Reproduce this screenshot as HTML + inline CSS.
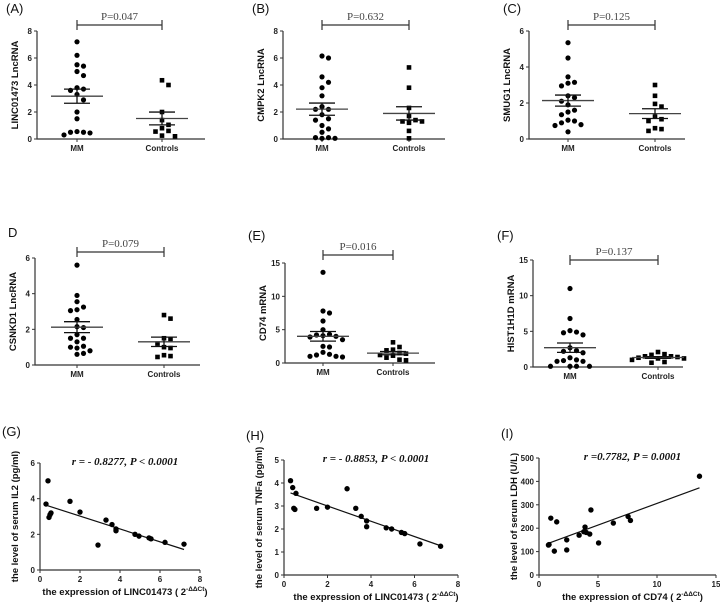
<!DOCTYPE html>
<html><head><meta charset="utf-8"><style>
html,body{margin:0;padding:0;background:#fff;}
svg{display:block;font-family:"Liberation Sans",Arial,sans-serif;}
.tk{font-size:8px;font-weight:bold;fill:#222;}
.ttl{font-size:9.5px;font-weight:bold;fill:#111;}
.pl{font-family:"Liberation Serif",serif;font-size:11px;fill:#444;}
.lab{font-size:13px;fill:#111;}
.eq{font-family:"Liberation Serif",serif;font-size:11px;font-weight:bold;font-style:italic;fill:#111;}
</style></head><body>
<svg id="fig" width="720" height="608" viewBox="0 0 720 608"></svg>
<script>
// ---- Dot plot data ----
const groups = ["MM", "Controls"];
const aMM = [7.2,6.2,5.5,5.4,5.0,4.7,3.8,3.7,3.6,3.3,2.9,2.0,1.5,0.5,0.55,0.45,0.5,0.3];
const aCtl = [4.35,4.0,2.0,1.4,1.05,0.8,0.55,0.6,0.25,0.2];
const bMM = [6.15,6.0,4.6,4.2,3.8,3.2,2.4,2.2,2.2,1.8,1.5,1.4,1.0,0.75,0.5,0.1,0.05,0.05,0.1];
const bCtl = [5.3,3.8,2.3,1.7,1.4,1.3,1.3,1.2,0.6,0.05];
const cMM = [5.35,4.5,3.45,3.15,3.1,2.95,2.4,2.3,2.1,1.9,1.6,1.5,1.35,1.05,1.0,0.9,0.8,0.75,0.4];
const cCtl = [3.0,2.4,1.95,1.8,1.25,1.1,1.0,0.6,0.55,0.45];
const dMM = [5.6,3.9,3.55,3.25,3.1,3.05,2.55,2.15,2.1,1.7,1.5,1.5,1.3,1.0,1.05,0.95,0.8,0.6,0.65];
const dCtl = [2.8,2.6,1.5,1.45,1.2,1.0,0.95,0.55,0.5,0.45];
const eMM = [13.6,7.8,7.5,6.3,5.0,4.2,4.3,4.1,4.0,3.9,3.5,2.5,2.4,1.6,1.3,1.2,1.0,0.9,1.0];
const eCtl = [3.1,2.4,2.0,1.9,1.5,1.4,1.2,1.1,0.8,0.5,0.4];
const fMM = [11.0,6.8,5.1,4.9,4.8,4.5,2.7,2.3,2.2,2.0,1.3,1.0,0.8,0.8,0.9,0.1,0.1,0.1,0.1];
const fCtl = [2.1,1.8,1.7,1.5,1.5,1.4,1.3,1.2,1.2,1.0,0.7,0.6];
const ticks8 = [0,2,4,6,8];
const ticks6 = [0,2,4,6];
const ticks15 = [0,5,10,15];
// ---- Scatter data ----
const gX = [0.3,0.4,0.45,0.5,0.55,1.5,2.0,2.9,3.3,3.6,3.8,3.8,4.75,4.95,5.45,5.55,6.25,7.2];
const gY = [3.7,5.0,2.95,3.1,3.2,3.85,3.25,1.4,2.8,2.55,2.3,2.2,2.0,1.9,1.8,1.75,1.55,1.45];
const hX = [0.3,0.4,0.45,0.5,0.55,1.5,2.0,2.9,3.3,3.55,3.8,3.8,4.7,4.95,5.4,5.55,6.25,7.2];
const hY = [4.1,3.8,2.9,2.85,3.55,2.9,2.95,3.75,2.9,2.55,2.35,2.1,2.05,2.0,1.85,1.8,1.35,1.25];
const iX = [0.8,0.85,1.0,1.3,1.5,2.35,2.35,3.4,3.8,3.9,4.0,4.3,4.4,5.05,6.3,7.55,7.75,13.6];
const iY = [128,130,243,102,227,150,107,170,185,205,182,175,278,137,222,250,233,422];
const xt8 = [0,2,4,6,8];
const xt15 = [0,5,10,15];
const yt6 = [0,2,4,6];
const yt5 = [0,1,2,3,4,5];
const yt500 = [0,100,200,300,400,500];

const NS = "http://www.w3.org/2000/svg";
const svg = document.getElementById("fig");
function mk(tag, attrs, parent, txt){
  const e = document.createElementNS(NS, tag);
  for (const k in attrs) e.setAttribute(k, attrs[k]);
  if (txt !== undefined) e.textContent = txt;
  (parent || svg).appendChild(e);
  return e;
}
function beeswarm(vals, sy, cx, r){
  const placed = []; const out = [];
  const order = vals.map((v,i)=>i).sort((a,b)=>vals[b]-vals[a]);
  const res = new Array(vals.length);
  for (const i of order){
    const y = sy(vals[i]);
    let k = 0, x = cx;
    while (true){
      const off = (k===0?0:Math.ceil(k/2)*(k%2?1:-1))*(2*r+1.5)/1;
      x = cx + off;
      if (!placed.some(p => Math.hypot(p[0]-x, p[1]-y) < 2*r+0.8)) break;
      k++;
    }
    placed.push([x,y]); res[i] = [x,y];
  }
  return res;
}
function stats(v){
  const m = v.reduce((a,b)=>a+b,0)/v.length;
  const sd = Math.sqrt(v.reduce((a,b)=>a+(b-m)*(b-m),0)/(v.length-1));
  return [m, sd/Math.sqrt(v.length)];
}
function dotPanel(p){
  const g = mk("g", {});
  
  
  const ymax = p.ticks[p.ticks.length-1];
  const sy = v => p.yb - (v/ymax)*(p.yb-p.yt);
  const lab = mk("text", {x:p.lx, y:p.ly, class:"lab"}, g, p.label);
  
  
  // axes
  const ya = mk("path", {d:`M${p.x0},${p.yt}V${p.yb}H${p.xe}`, stroke:"#333", "stroke-width":1.2, fill:"none"}, g);
  
  
  p.ticks.forEach(t => {
    const y = sy(t);
    mk("line", {x1:p.x0-3, x2:p.x0, y1:y, y2:y, stroke:"#333"}, g);
    const tl = mk("text", {x:p.x0-5, y:y+3, class:"tk", "text-anchor":"end"}, g, t);
    
    
  });
  const cs = [p.cm, p.cc];
  groups.forEach((gname, gi) => {
    mk("line", {x1:cs[gi], x2:cs[gi], y1:p.yb, y2:p.yb+3, stroke:"#333"}, g);
    const xl = mk("text", {x:cs[gi], y:p.yb+12, class:"tk", "text-anchor":"middle"}, g, gname);
    
    
  });
  const yt = mk("text", {class:"ttl", "text-anchor":"middle", transform:`translate(${p.x0-19},${(p.yt+p.yb)/2}) rotate(-90)`}, g, p.title);
  
  
  // p bar
  const pb = mk("path", {d:`M${p.cm},${p.py-5}V${p.py+5}M${p.cm},${p.py}H${p.cc}M${p.cc},${p.py-5}V${p.py+5}`, stroke:"#333", "stroke-width":1.2, fill:"none"}, g);
  
  
  const pt = mk("text", {x:(p.cm+p.cc)/2, y:p.py-5, class:"pl", "text-anchor":"middle"}, g, p.p);
  
  
  [p.mm, p.ctl].forEach((vals, gi) => {
    const pos = beeswarm(vals, sy, cs[gi], 2.5);
    pos.forEach(([x,y]) => {
      let m;
      if (gi===0) m = mk("circle", {cx:x, cy:y, r:2.6, fill:"#000"}, g);
      else m = mk("rect", {x:x-2.3, y:y-2.3, width:4.6, height:4.6, fill:"#000"}, g);
      
      
    });
    const [mean, sem] = stats(vals);
    const c = cs[gi];
    const ml = mk("line", {x1:c-26, x2:c+26, y1:sy(mean), y2:sy(mean), stroke:"#444", "stroke-width":1.3}, g);
    
    
    const el = mk("path", {d:`M${c-13},${sy(mean+sem)}H${c+13}M${c-13},${sy(mean-sem)}H${c+13}M${c},${sy(mean+sem)}V${sy(mean-sem)}`, stroke:"#111", "stroke-width":1.3, fill:"none"}, g);
    
    
  });
}
function scatterPanel(p){
  const g = mk("g", {});
  
  
  const xmax = p.xt[p.xt.length-1], ymax = p.yt_[p.yt_.length-1];
  const sx = v => p.x0 + v/xmax*(p.x1-p.x0);
  const sy = v => p.yb - v/ymax*(p.yb-p.ytop);
  const lab = mk("text", {x:p.lx, y:p.ly, class:"lab"}, g, p.label);
  
  
  const ax = mk("path", {d:`M${p.x0},${p.ytop}V${p.yb}H${p.x1}`, stroke:"#333", "stroke-width":1.2, fill:"none"}, g);
  
  
  p.yt_.forEach(t => {
    mk("line", {x1:p.x0-3, x2:p.x0, y1:sy(t), y2:sy(t), stroke:"#333"}, g);
    const tl = mk("text", {x:p.x0-5, y:sy(t)+3, class:"tk", "text-anchor":"end"}, g, t);
    
    
  });
  p.xt.forEach(t => {
    mk("line", {x1:sx(t), x2:sx(t), y1:p.yb, y2:p.yb+3, stroke:"#333"}, g);
    const tl = mk("text", {x:sx(t), y:p.yb+12, class:"tk", "text-anchor":"middle"}, g, t);
    
    
  });
  const yt = mk("text", {class:"ttl", "text-anchor":"middle", transform:`translate(${p.x0-22},${(p.ytop+p.yb)/2}) rotate(-90)`}, g, p.ytitle);
  
  
  const xt = mk("text", {x:(p.x0+p.x1)/2+5, y:p.yb+25, class:"ttl", "text-anchor":"middle"}, g, p.xtitle + " ( 2");
  const sup = mk("tspan", {dy:-4, "font-size":"6.5px"}, xt, "-ΔΔCt");
  mk("tspan", {dy:4}, xt, ")");
  
  
  const eq = mk("text", {x:(p.x0+p.x1)/2+5, y:p.ytop+2, class:"eq", "text-anchor":"middle"}, g, p.eq);
  
  
  // regression
  const n = p.X.length;
  const mx = p.X.reduce((a,b)=>a+b,0)/n, my = p.Y.reduce((a,b)=>a+b,0)/n;
  let sxy=0, sxx=0;
  for (let i=0;i<n;i++){ sxy += (p.X[i]-mx)*(p.Y[i]-my); sxx += (p.X[i]-mx)**2; }
  const b = sxy/sxx, a = my - b*mx;
  const xa = Math.min(...p.X), xb = Math.max(...p.X);
  const rl = mk("line", {x1:sx(xa), y1:sy(a+b*xa), x2:sx(xb), y2:sy(a+b*xb), stroke:"#111", "stroke-width":1.2}, g);
  
  
  for (let i=0;i<n;i++){
    const c = mk("circle", {cx:sx(p.X[i]), cy:sy(p.Y[i]), r:2.7, fill:"#000"}, g);
    
    
  }
}
dotPanel({name:"panel-a", label:"(A)", lx:6, ly:13, x0:37, yt:31, yb:139, xe:205, cm:77, cc:162, py:25, ticks:ticks8, title:"LINC01473 LncRNA", p:"P=0.047", mm:aMM, ctl:aCtl});
dotPanel({name:"panel-b", label:"(B)", lx:252, ly:13, x0:283, yt:31, yb:139, xe:445, cm:322, cc:409, py:25, ticks:ticks8, title:"CMPK2 LncRNA", p:"P=0.632", mm:bMM, ctl:bCtl});
dotPanel({name:"panel-c", label:"(C)", lx:503, ly:13, x0:529, yt:31, yb:139, xe:685, cm:568, cc:655, py:25, ticks:ticks6, title:"SMUG1 LncRNA", p:"P=0.125", mm:cMM, ctl:cCtl});
dotPanel({name:"panel-d", label:"D", lx:8, ly:237, x0:35, yt:258, yb:365, xe:200, cm:77, cc:164, py:252, ticks:ticks6, title:"CSNKD1 LncRNA", p:"P=0.079", mm:dMM, ctl:dCtl});
dotPanel({name:"panel-e", label:"(E)", lx:248, ly:240, x0:285, yt:263, yb:363, xe:435, cm:323, cc:393, py:255, ticks:ticks15, title:"CD74 mRNA", p:"P=0.016", mm:eMM, ctl:eCtl});
dotPanel({name:"panel-f", label:"(F)", lx:497, ly:240, x0:533, yt:260, yb:367, xe:683, cm:570, cc:658, py:260, ticks:ticks15, title:"HIST1H1D mRNA", p:"P=0.137", mm:fMM, ctl:fCtl});
scatterPanel({name:"panel-g", label:"(G)", lx:2, ly:436, x0:40, x1:200, ytop:463, yb:570, xt:xt8, yt_:yt6, X:gX, Y:gY, ytitle:"the level of serum IL2  (pg/ml)", xtitle:"the expression of LINC01473", eq:"r = - 0.8277, P < 0.0001"});
scatterPanel({name:"panel-h", label:"(H)", lx:246, ly:440, x0:284, x1:458, ytop:460, yb:575, xt:xt8, yt_:yt5, X:hX, Y:hY, ytitle:"the level of serum TNFa  (pg/ml)", xtitle:"the expression of LINC01473", eq:"r = - 0.8853, P < 0.0001"});
scatterPanel({name:"panel-i", label:"(I)", lx:501, ly:438, x0:539, x1:716, ytop:458, yb:575, xt:xt15, yt_:yt500, X:iX, Y:iY, ytitle:"the level of serum LDH (U/L)", xtitle:"the expression of CD74", eq:"r =0.7782, P = 0.0001"});
</script>
</body></html>
